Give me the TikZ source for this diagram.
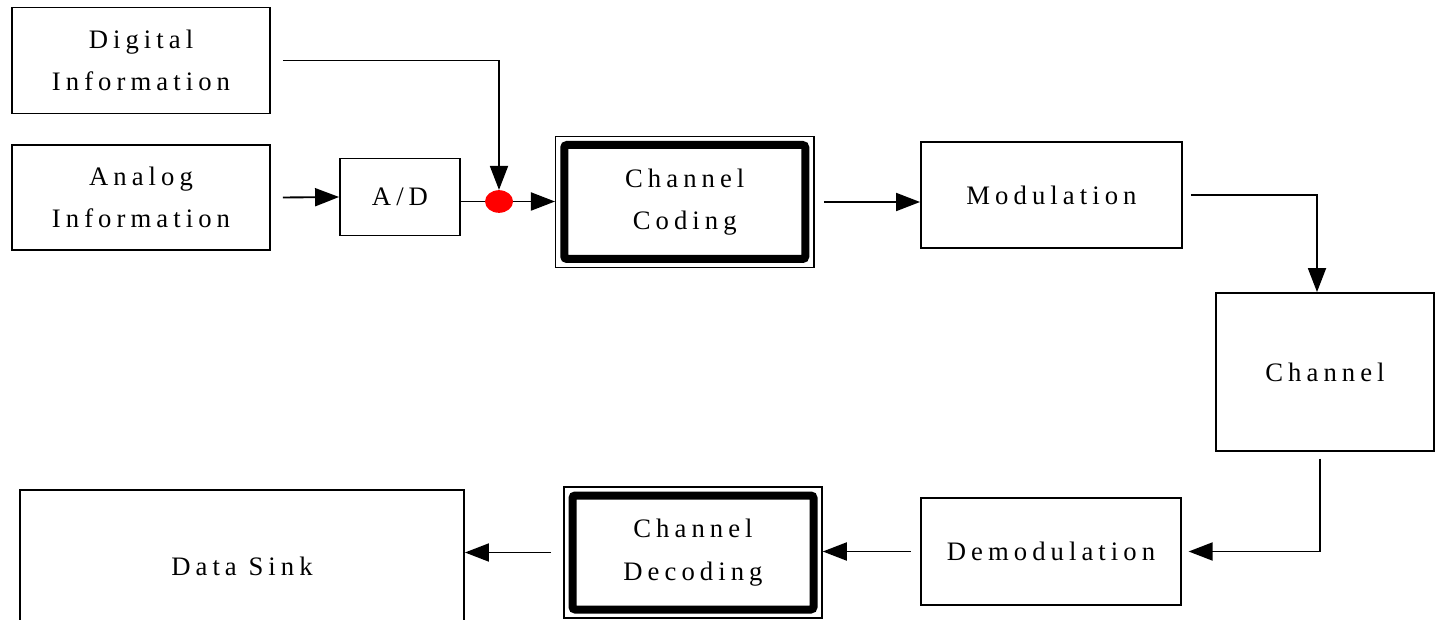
\documentclass[tikz,border=0pt]{standalone}
\usepackage{fontspec}
\setmainfont[LetterSpace=19]{Liberation Serif}
\usetikzlibrary{arrows.meta,shapes.geometric,fit}

\begin{document}
\begin{tikzpicture}
        [x=0.75pt, y=-0.75pt,
        block/.style={draw, line width=1.4pt, align=center, font=\fontsize{20}{32}\selectfont, inner sep=0pt},
        coder/.style={block, line width=6pt, rounded corners=2pt, minimum width=180.75pt, minimum height=85.5pt},
        codeframe/.style={draw, line width=1.1pt, inner sep=3.4pt},
        junction/.style={ellipse, fill=red, minimum width=21pt, minimum height=17pt, inner sep=0pt},
        edge/.style={line width=1.4pt, black},
        flow/.style={edge, -{Triangle[length=18pt, width=13.5pt]}}]

        \useasboundingbox (0,0) rectangle (1439,620);

        % sources
        \node[block, minimum width=193.5pt, minimum height=79.5pt] (digital) at (141,60.5) {Digital\\Information};
        \node[block, minimum width=193.5pt, minimum height=79pt] (analog) at (141,197.5) {Analog\\Information};
        \node[block, minimum width=90pt, minimum height=57.75pt] (ad) at (400,197) {A/D};
        \node[junction] (junc) at (499,201.5) {};

        % transmitter and channel
        \node[coder] (coding) at (684.75,202) {Channel\\Coding};
        \node[codeframe, fit=(coding)] (codingframe) {};
        \node[block, minimum width=195.75pt, minimum height=79.5pt] (mod) at (1051.5,195) {Modulation};
        \node[block, minimum width=163.5pt, minimum height=118.5pt] (chan) at (1325,372) {Channel};

        % receiver
        \node[block, minimum width=195pt, minimum height=80pt] (demod) at (1051,551.5) {Demodulation};
        \node[coder] (decoding) at (693,552.5) {Channel\\Decoding};
        \node[codeframe, fit=(decoding)] (decodingframe) {};
        \node[block, minimum width=333pt, minimum height=114pt] (sink) at (242,566) {Data Sink};

        % forward path
        \draw[flow] ([xshift=9pt]digital.east) -| (junc.north);
        \draw[flow] ([xshift=9pt]analog.east) -- (ad.west);
        \draw[edge] (ad.east |- junc) -- (junc);
        \draw[flow] (junc) -- (junc -| codingframe.west);
        \draw[flow] ([xshift=7pt]codingframe.east) -- (codingframe.east -| mod.west);
        \draw[flow] ([xshift=6pt]mod.east) -| ([xshift=-6pt]chan.north);

        % return path
        \draw[flow] ([xshift=-4pt,yshift=-5pt]chan.south) |- ([xshift=5pt]demod.east);
        \draw[flow] ([xshift=-7pt]demod.west) -- (demod.west -| decodingframe.east);
        \draw[flow] ([xshift=-9pt]decodingframe.west) -- (decodingframe.west -| sink.east);

    \end{tikzpicture}
\end{document}
